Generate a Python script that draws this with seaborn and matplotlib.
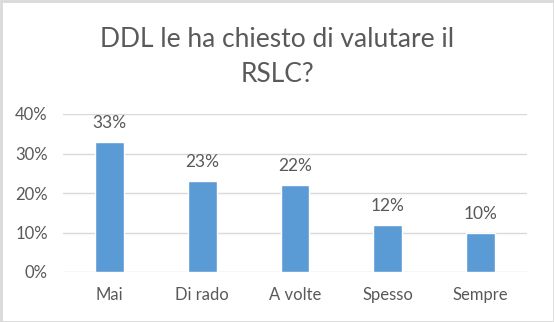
import matplotlib
matplotlib.use("Agg")
import matplotlib.pyplot as plt
import matplotlib.patches as mpatches
from matplotlib.ticker import PercentFormatter
import seaborn as sns
import pandas as pd

categories = ["Mai", "Di rado", "A volte", "Spesso", "Sempre"]
values = [33, 23, 22, 12, 10]
yticks = [0, 10, 20, 30, 40]
title_lines = ["DDL le ha chiesto di valutare il", "RSLC?"]

sns.set_theme(style="white")
plt.rcParams["font.family"] = ["Lato", "DejaVu Sans"]

text_color = "#595959"
grid_color = "#d9d9d9"
bar_color = "#5b9bd5"

df = pd.DataFrame({"cat": categories, "val": values})

W, H = 554, 322
fig = plt.figure(figsize=(W / 100, H / 100), dpi=100)
ax = fig.add_axes([63 / W, 1 - 272 / H, 464 / W, 158 / H])

sns.barplot(data=df, x="cat", y="val", color=bar_color, width=0.31,
            saturation=1, ax=ax, zorder=3)

ax.set_ylim(0, 40)
ax.set_xlim(-0.5, len(categories) - 0.5)
ax.set_yticks(yticks)
ax.yaxis.set_major_formatter(PercentFormatter(decimals=0))
ax.grid(axis="y", color=grid_color, linewidth=1, zorder=0)
ax.grid(axis="x", visible=False)
for s in ax.spines.values():
    s.set_visible(False)
ax.set_xlabel("")
ax.set_ylabel("")
ax.tick_params(axis="both", length=0, labelsize=12, colors=text_color)
ax.tick_params(axis="x", pad=11)
ax.tick_params(axis="y", pad=11)

for i, v in enumerate(values):
    ax.annotate(f"{v}%", (i, v), xytext=(0, 10), textcoords="offset points",
                ha="center", va="baseline", fontsize=12.5, color=text_color)

# two-line chart title, centred over the figure
for k, (line, base) in enumerate(zip(title_lines, [47, 82])):
    fig.text(0.5, 1 - base / H, line, ha="center", va="baseline",
             fontsize=19, color=text_color)

fig.patches.append(mpatches.Rectangle((0.5 / W, 0.5 / H), 1 - 1 / W, 1 - 1 / H,
                                      transform=fig.transFigure, fill=False,
                                      edgecolor=grid_color, linewidth=2))

fig.savefig("out.png", dpi=100, facecolor="white")
